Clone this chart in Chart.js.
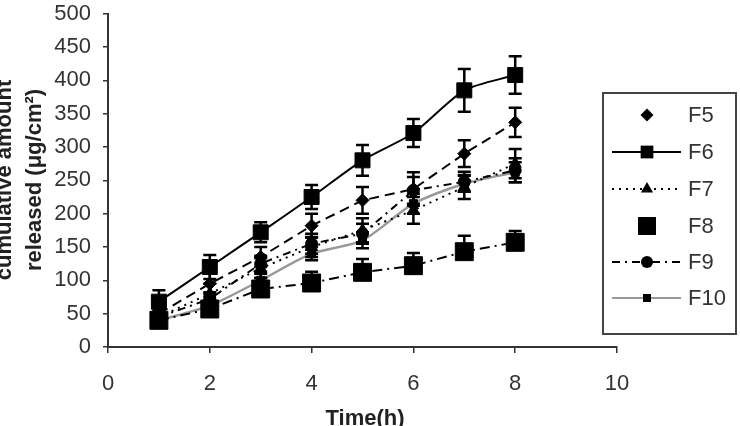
<!DOCTYPE html>
<html><head><meta charset="utf-8">
<script src="https://cdn.jsdelivr.net/npm/chart.js@4/dist/chart.umd.min.js"></script>
<style>html,body{margin:0;padding:0;background:#fff;}#wrap{width:740px;height:426px;position:relative}</style>
</head><body><div id="wrap"><canvas id="c" width="740" height="426"></canvas></div>
<script>
// ---- data ----
const times = [1, 2, 3, 4, 5, 6, 7, 8];
const xTickValues = [0, 2, 4, 6, 8, 10];
const yTickValues = [0, 50, 100, 150, 200, 250, 300, 350, 400, 450, 500];
const seriesNames = ['F5', 'F6', 'F7', 'F8', 'F9', 'F10'];

const F5  = [50, 95, 135, 182, 220, 237, 290, 337];
const F6  = [68, 120, 172, 225, 280, 321, 385, 408];
const F7  = [45, 80, 118, 150, 175, 205, 240, 275];
const F8  = [40, 57, 87, 96, 112, 122, 143, 157];
const F9  = [45, 72, 125, 155, 170, 235, 248, 265];
const F10 = [40, 62, 100, 140, 160, 215, 245, 262];

const errF5  = [10, 15, 15, 18, 20, 25, 20, 22];
const errF6  = [17, 18, 15, 18, 23, 21, 32, 28];
const errF7  = [10, 15, 15, 15, 18, 20, 18, 22];
const errF8  = [10, 12, 17, 17, 20, 19, 24, 17];
const errF9  = [8, 10, 12, 15, 15, 20, 15, 18];
const errF10 = [6, 8, 10, 10, 12, 15, 12, 15];

const xTitle = 'Time(h)';
const yTitleLines = ['cumulative amount', 'released (\u03bcg/cm\u00b2)'];

// ---- styles ----
const FONT = '"Liberation Sans", Arial, sans-serif';
const TXT = '#333';
const values = [F5, F6, F7, F8, F9, F10];
const errors = [errF5, errF6, errF7, errF8, errF9, errF10];
const styles = [
  {color:'#000', width:2, dash:[10,6], point:'rectRot', r:6.5, tension:0, lw:2, lineInLegend:false, plusOnly:false},
  {color:'#000', width:2, dash:[], point:'rect', r:10.6, tension:0.25, lw:2, lineInLegend:true, plusOnly:false},
  {color:'#000', width:2, dash:[2,5], point:'triangle', r:7, tension:0, lw:2, lineInLegend:true, plusOnly:false},
  {color:'#000', width:2, dash:[10,5,2,5], point:'rect', r:12.7, tension:0, lw:2, lineInLegend:false, plusOnly:true},
  {color:'#000', width:2, dash:[8,5,2,5], point:'circle', r:6, tension:0, lw:2, lineInLegend:true, plusOnly:false},
  {color:'#999', width:2.5, dash:[], point:'rect', r:5.7, tension:0.25, lw:2, lineInLegend:true, plusOnly:false}
];

const datasets = seriesNames.map((name, i) => ({
  label: name,
  data: times.map((t, j) => ({x: t, y: values[i][j]})),
  borderColor: styles[i].color,
  borderWidth: styles[i].width,
  borderDash: styles[i].dash,
  tension: styles[i].tension,
  pointStyle: styles[i].point,
  pointRadius: styles[i].r,
  pointBackgroundColor: '#000',
  pointBorderColor: '#000',
  pointBorderWidth: 1,
  fill: false
}));

function drawMarker(ctx, style, x, y, r) {
  ctx.save();
  ctx.fillStyle = '#000';
  ctx.beginPath();
  if (style === 'rect') {
    const s = Math.SQRT1_2 * r;
    ctx.rect(x - s, y - s, 2 * s, 2 * s);
  } else if (style === 'rectRot') {
    ctx.moveTo(x - r, y); ctx.lineTo(x, y - r); ctx.lineTo(x + r, y); ctx.lineTo(x, y + r); ctx.closePath();
  } else if (style === 'triangle') {
    ctx.moveTo(x, y - r); ctx.lineTo(x + r * 0.866, y + r * 0.5); ctx.lineTo(x - r * 0.866, y + r * 0.5); ctx.closePath();
  } else {
    ctx.arc(x, y, r, 0, Math.PI * 2);
  }
  ctx.fill();
  ctx.restore();
}

const errorBars = {
  id: 'errorBars',
  afterDatasetsDraw(chart) {
    const ctx = chart.ctx, ys = chart.scales.y;
    ctx.save();
    ctx.strokeStyle = '#000';
    ctx.lineWidth = 2.5;
    chart.data.datasets.forEach((ds, i) => {
      const meta = chart.getDatasetMeta(i);
      meta.data.forEach((pt, j) => {
        const v = values[i][j], e = errors[i][j];
        const yt = ys.getPixelForValue(v + e);
        const yb = styles[i].plusOnly ? pt.y : ys.getPixelForValue(v - e);
        const cw = 6.5;
        ctx.beginPath();
        ctx.moveTo(pt.x, yt); ctx.lineTo(pt.x, yb);
        ctx.moveTo(pt.x - cw, yt); ctx.lineTo(pt.x + cw, yt);
        if (!styles[i].plusOnly) { ctx.moveTo(pt.x - cw, yb); ctx.lineTo(pt.x + cw, yb); }
        ctx.stroke();
      });
    });
    ctx.restore();
  }
};

const decorations = {
  id: 'decorations',
  afterDraw(chart) {
    const ctx = chart.ctx;
    ctx.save();
    ctx.fillStyle = '#222';
    // axis titles
    ctx.font = 'bold 22px ' + FONT;
    ctx.textAlign = 'center';
    ctx.textBaseline = 'alphabetic';
    ctx.fillText(xTitle, 365, 425);
    const bases = [11, 41];
    yTitleLines.forEach((line, k) => {
      ctx.save();
      ctx.translate(bases[k], 180);
      ctx.rotate(-Math.PI / 2);
      ctx.fillText(line, 0, 0);
      ctx.restore();
    });
    // legend box
    ctx.strokeStyle = '#444';
    ctx.lineWidth = 2;
    ctx.strokeRect(603, 93, 133, 241);
    const rowY = [115, 152, 189, 226, 262, 298];
    ctx.font = '22px ' + FONT;
    ctx.textAlign = 'left';
    ctx.textBaseline = 'middle';
    seriesNames.forEach((name, i) => {
      const st = styles[i], y = rowY[i];
      if (st.lineInLegend) {
        ctx.save();
        ctx.strokeStyle = st.color;
        ctx.lineWidth = st.lw;
        ctx.setLineDash(st.dash);
        ctx.beginPath(); ctx.moveTo(612, y); ctx.lineTo(681, y); ctx.stroke();
        ctx.restore();
      }
      drawMarker(ctx, st.point, 647, y, st.r * (i === 1 ? 0.85 : 1));
      ctx.fillStyle = TXT;
      ctx.fillText(name, 688, y + 1);
    });
    ctx.restore();
  }
};

new Chart(document.getElementById('c'), {
  type: 'line',
  data: { datasets },
  options: {
    responsive: false,
    devicePixelRatio: 1,
    animation: false,
    layout: { padding: { top: 10, right: 123, left: 0, bottom: 0 } },
    plugins: { legend: { display: false }, tooltip: { enabled: false } },
    scales: {
      x: {
        type: 'linear', min: 0, max: 10,
        afterBuildTicks: s => { s.ticks = xTickValues.map(v => ({value: v})); },
        afterFit: s => { s.height = 79; s.paddingLeft = 0; s.paddingRight = 0; },
        grid: { drawOnChartArea: false, drawTicks: true, tickLength: 6, color: '#333', lineWidth: 1.5 },
        border: { display: true, color: '#333', width: 2 },
        ticks: { font: { family: FONT, size: 22 }, color: TXT, padding: 18, maxRotation: 0 }
      },
      y: {
        type: 'linear', min: 0, max: 500,
        afterBuildTicks: s => { s.ticks = yTickValues.map(v => ({value: v})); },
        afterFit: s => { s.width = 108; s.paddingTop = 0; s.paddingBottom = 0; },
        grid: { drawOnChartArea: false, drawTicks: true, tickLength: 5, color: '#333', lineWidth: 1.5 },
        border: { display: true, color: '#333', width: 2 },
        ticks: { font: { family: FONT, size: 22 }, color: TXT, padding: 12 }
      }
    }
  },
  plugins: [errorBars, decorations]
});
</script></body></html>
